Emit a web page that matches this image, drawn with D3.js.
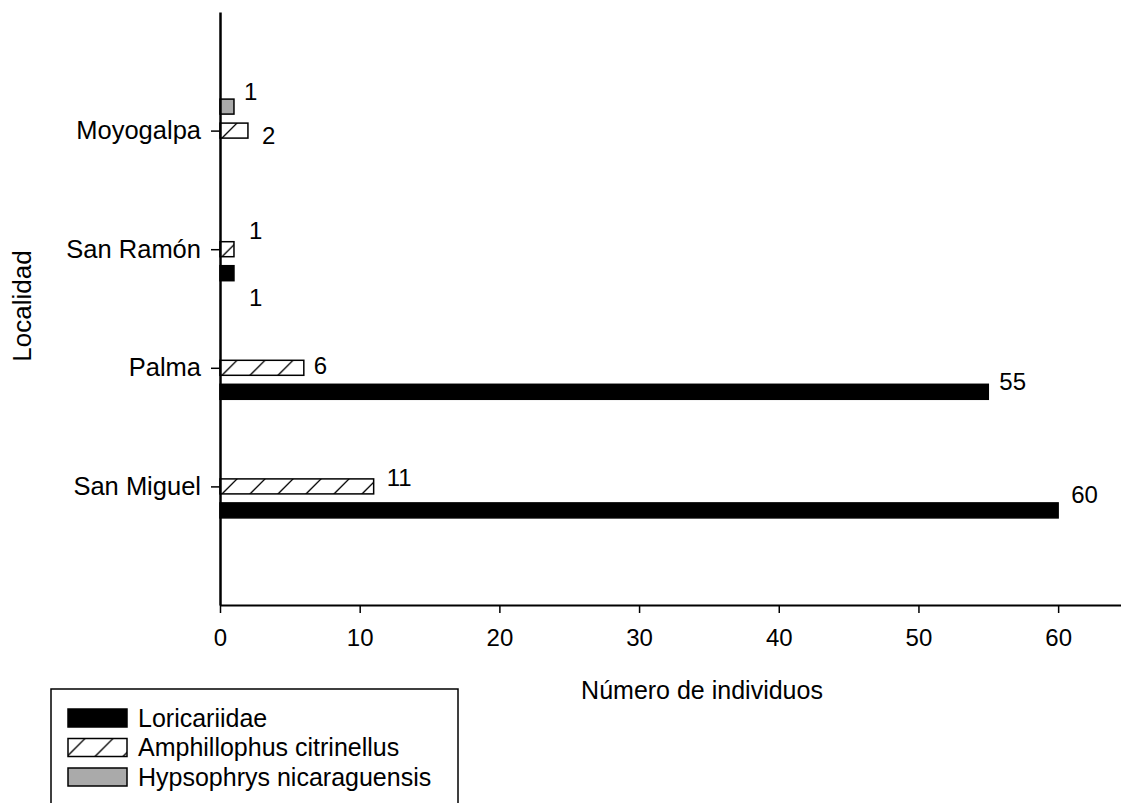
<!DOCTYPE html>
<html>
<head>
<meta charset="utf-8">
<script src="https://cdn.jsdelivr.net/npm/d3@7"></script>
<style>
  body { margin: 0; background: white; }
  svg text { font-family: "Liberation Sans", Arial, sans-serif; fill: black; }
</style>
</head>
<body>
<div id="chart"></div>
<script>
var WD = 1121, HT = 803

// data
var localidades = ["San Miguel", "Palma", "San Ramón", "Moyogalpa"]
var especies = ["Loricariidae", "Amphillophus citrinellus", "Hypsophrys nicaraguensis"]
var loricariidae = [60, 55, 1, 0]
var amphillophus = [11, 6, 1, 2]
var hypsophrys = [0, 0, 0, 1]
var xTicks = [0, 10, 20, 30, 40, 50, 60]

// hand-placed value labels, like in the original figure [localidad, especie, dx, dy]
var labelNudge = [
  [0, 0, 13, -16], [0, 1, 13, -9],
  [1, 0, 11, -10], [1, 1, 10, -2],
  [2, 0, 15, 24], [2, 1, 15, -19],
  [3, 1, 14, 5], [3, 2, 10, -15]
]

var margin = { left: 220, top: 12, bottom: 198 }
var x = d3.scaleLinear().domain([0, 64.5]).range([margin.left, WD])
var y = d3.scaleLinear().domain([0, 5]).range([HT - margin.bottom, margin.top])
// species offset inside a group (top to bottom: Hypsophrys, Amphillophus, Loricariidae)
var off = d3.scaleBand().domain([2, 1, 0]).range([-36, 36]).paddingInner(0.375).paddingOuter(0.1875)

var series = [loricariidae, amphillophus, hypsophrys]
var fills = ["black", "url(#hatch)", "#aaaaaa"]

var svg = d3.select("#chart").append("svg")
    .attr("width", WD)
    .attr("height", HT)

// hatch follows each bar's own corner
var pat = svg.append("defs").append("pattern")
    .attr("id", "hatch")
    .attr("patternUnits", "userSpaceOnUse")
    .attr("width", 28).attr("height", 28)
pat.append("rect").attr("width", 28).attr("height", 28).attr("fill", "white")
pat.append("path")
    .attr("d", "M-2,19 L19,-2 M12,33 L33,12")
    .attr("stroke", "black").attr("stroke-width", 1.3)

var rows = []
series.forEach(function(vals, s) {
  vals.forEach(function(v, i) {
    if (v > 0) rows.push({ loc: i, sp: s, value: v })
  })
})

// bars
svg.selectAll("g.bar")
  .data(rows)
  .enter()
  .append("g")
    .attr("class", "bar")
    .attr("transform", function(d) { return "translate(" + x(0) + "," + (y(d.loc + 1) + off(d.sp)) + ")" })
  .append("rect")
    .attr("width", function(d) { return x(d.value) - x(0) })
    .attr("height", off.bandwidth())
    .attr("fill", function(d) { return fills[d.sp] })
    .attr("stroke", "black")
    .attr("stroke-width", 1.5)

// value labels
svg.selectAll("text.val")
  .data(labelNudge)
  .enter()
  .append("text")
    .attr("class", "val")
    .attr("x", function(d) { return x(series[d[1]][d[0]]) + d[2] })
    .attr("y", function(d) { return y(d[0] + 1) + off(d[1]) + off.bandwidth() / 2 + d[3] })
    .attr("dy", "0.35em")
    .style("font-size", "24px")
    .text(function(d) { return series[d[1]][d[0]] })

// x axis
var xAxis = svg.append("g")
    .attr("transform", "translate(0," + y(0) + ")")
    .call(d3.axisBottom(x).tickValues(xTicks).tickSize(8).tickPadding(16).tickSizeOuter(0))
xAxis.select(".domain").attr("stroke-width", 2)
xAxis.selectAll(".tick line").attr("stroke-width", 1.5)
xAxis.selectAll("text").style("font-size", "24px").attr("font-family", null)

// y axis
var yAxis = svg.append("g")
    .attr("transform", "translate(" + x(0) + ",0)")
    .call(d3.axisLeft(y).tickValues([1, 2, 3, 4]).tickSize(9).tickPadding(10).tickSizeOuter(0)
      .tickFormat(function(d) { return localidades[d - 1] }))
yAxis.select(".domain").attr("stroke-width", 2.5)
yAxis.selectAll(".tick line").attr("stroke-width", 1.5)
yAxis.selectAll("text").style("font-size", "25.5px").attr("font-family", null)

// titles
svg.append("text")
    .attr("x", 702).attr("y", 699)
    .attr("text-anchor", "middle")
    .style("font-size", "25px")
    .text("Número de individuos")

svg.append("text")
    .attr("transform", "translate(31,306) rotate(-90)")
    .attr("text-anchor", "middle")
    .style("font-size", "26px")
    .text("Localidad")

// legend
var lg = svg.append("g")
lg.append("rect")
    .attr("x", 51).attr("y", 689)
    .attr("width", 407).attr("height", 140)
    .attr("fill", "white").attr("stroke", "black").attr("stroke-width", 1.5)

var item = lg.selectAll("g.item")
  .data(especies)
  .enter()
  .append("g")
    .attr("class", "item")
    .attr("transform", function(d, i) { return "translate(68," + (709 + i * 29.5) + ")" })
item.append("rect")
    .attr("width", 59).attr("height", 18)
    .attr("fill", function(d, i) { return fills[i] })
    .attr("stroke", "black").attr("stroke-width", 1.5)
item.append("text")
    .attr("x", 70).attr("y", 9).attr("dy", "0.35em")
    .style("font-size", "25px")
    .text(function(d) { return d })
</script>
</body>
</html>
